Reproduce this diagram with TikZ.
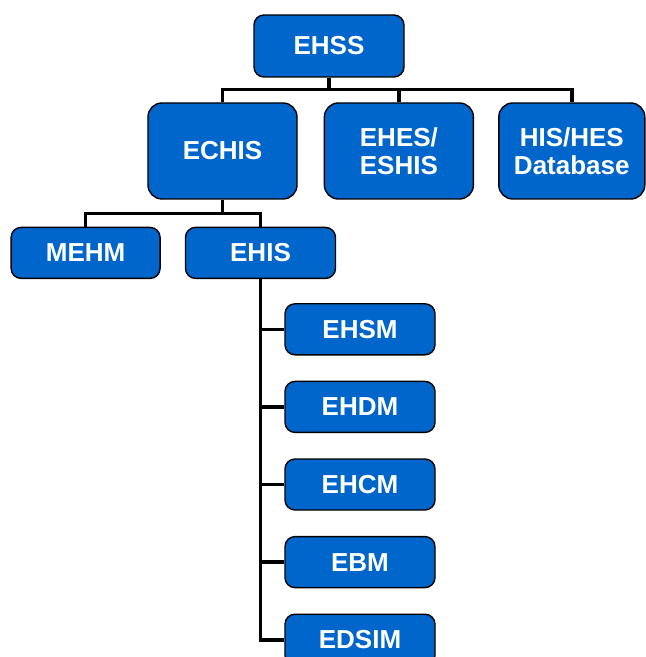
\documentclass[tikz,border=0pt]{standalone}
\usepackage{fontspec}
\setmainfont{Liberation Sans}
\usepackage{xcolor}
\usepackage{tikz}
\usetikzlibrary{positioning}
\definecolor{unitblue}{RGB}{0,102,204}
\tikzstyle{unit} = [rectangle, rounded corners=5pt, minimum width=75pt, minimum height=25.5pt, inner sep=0pt, text centered, align=center, draw=black, line width=0.7pt, fill=unitblue, text=white, font=\fontsize{13}{14}\selectfont\bfseries]
\tikzstyle{topunit} = [unit, minimum height=31pt]
\tikzstyle{bigunit} = [unit, rounded corners=7pt, minimum width=74.5pt, minimum height=48pt]
\tikzstyle{wire} = [line width=1.8pt]

\begin{document}
\begin{tikzpicture}[node distance=13pt]

		\useasboundingbox (-164.5pt,23pt) rectangle (158pt,-305.5pt);

		\node (ehss) [topunit] at (0,0) {EHSS};

		\node (echis) [bigunit] at (-53.25pt,-52.5pt) {ECHIS};
		\node (ehes) [bigunit, right=of echis] {EHES/\\ESHIS};
		\node (hisdb) [bigunit, minimum width=73pt, right=12pt of ehes] {HIS/HES\\Database};

		\node (ehis) [unit, below=13.5pt of echis, xshift=19pt] {EHIS};
		\node (mehm) [unit, minimum width=74.5pt, left=12pt of ehis] {MEHM};

		\node (ehsm) [unit, below=12pt of ehis, xshift=49.75pt] {EHSM};
		\node (ehdm) [unit, below=12.6pt of ehsm] {EHDM};
		\node (ehcm) [unit, below=12.6pt of ehdm] {EHCM};
		\node (ebm) [unit, below=12.6pt of ehcm] {EBM};
		\node (edsim) [unit, below=12.6pt of ebm] {EDSIM};

		% top level bus
		\draw [wire] (ehss.south) -- ++(0,-6pt) coordinate (topbus);
		\draw [wire] (echis.north) |- (topbus) -| (hisdb.north);
		\draw [wire] (ehes.north) -- (ehes.north |- topbus);

		% second level bus
		\draw [wire] (echis.south) -- ++(0,-7pt) coordinate (midbus);
		\draw [wire] (mehm.north) |- (midbus) -| (ehis.north);

		% modules under EHIS
		\foreach \m in {ehsm, ehdm, ehcm, ebm, edsim}
			\draw [wire] (ehis.south) |- (\m.west);

\end{tikzpicture}
\end{document}
